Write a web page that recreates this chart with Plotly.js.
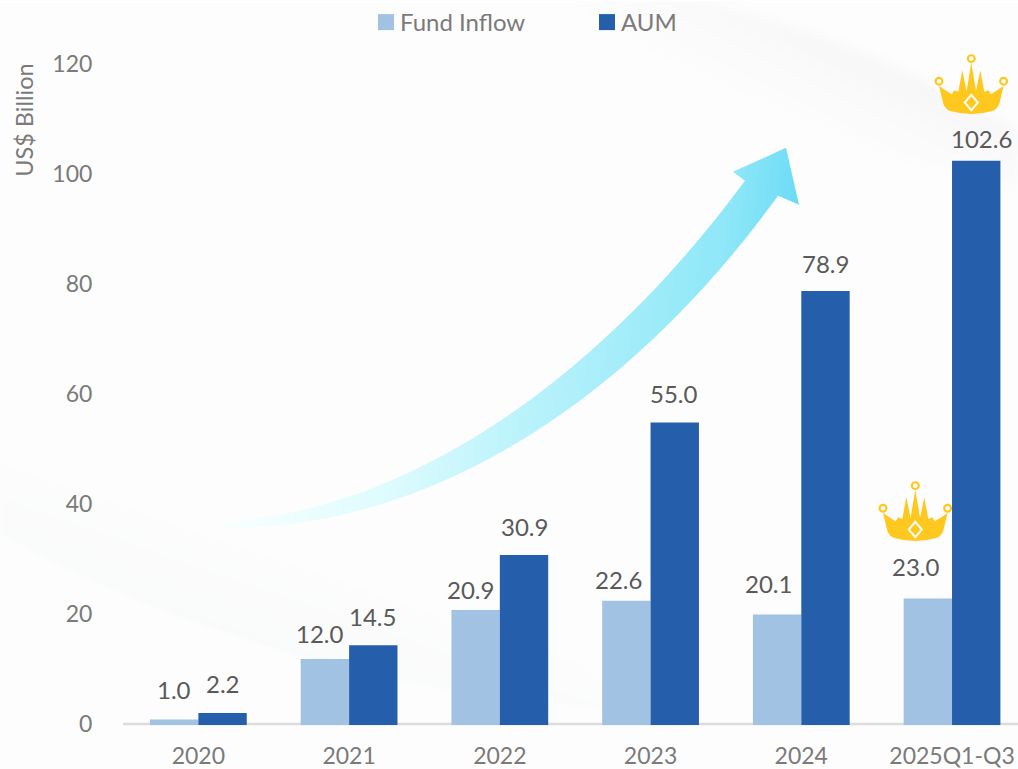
<!DOCTYPE html>
<html>
<head>
<meta charset="utf-8">
<script src="https://cdn.plot.ly/plotly-3.0.1.min.js"></script>
<style>html,body{margin:0;padding:0;background:#fff;overflow:hidden}</style>
</head>
<body>
<div id="chart" style="width:1018px;height:769px"></div>
<script>
const categories = ['2020','2021','2022','2023','2024','2025Q1-Q3'];
const fundInflow = [1.0,12.0,20.9,22.6,20.1,23.0];
const aum = [2.2,14.5,30.9,55.0,78.9,102.6];

const W=1018,H=769,L=123,B=44;
const FONT='Lato, "Open Sans", sans-serif';
const fundDx=[0,-5,-5,-8,-9,-12], fundDy=[30,26,21,21,31,32];
const aumDx=[0,-1,0,-1,0,5], aumDy=[29,29,29,29,28,22];
const BAR=24.2;

function crown(cx,cy){
  return `<g transform="translate(${cx},${cy})"><path fill="#ffc81e" d="M-32.3,0 L-19.7,8.3 L-17,4.3 L-13,6 L-9,-15.7 L-4.7,5 L0,-23.3 L4.7,5 L9,-15.7 L13,6 L17,4.3 L19.7,8.3 L32.3,0 L28,18 Q26,24 20,25.5 Q0,31 -20,25.5 Q-26,24 -28,18 Z"/>`+
  `<g fill="none" stroke="#ffc81e" stroke-width="2.2"><circle cx="0" cy="-27.3" r="3.4"/><circle cx="-32.3" cy="-4.7" r="3.4"/><circle cx="32.3" cy="-4.7" r="3.4"/></g>`+
  `<path d="M0,9 L6.5,16.7 L0,24.4 L-6.5,16.7 Z" fill="none" stroke="#fff" stroke-width="2"/></g>`;
}
const decor=`<svg xmlns="http://www.w3.org/2000/svg" width="${W}" height="${H}" viewBox="0 0 ${W} ${H}">
<defs>
<linearGradient id="a" gradientUnits="userSpaceOnUse" x1="230" y1="500" x2="810" y2="560">
<stop offset="0" stop-color="#f8ffff"/><stop offset="0.25" stop-color="#e0fcfe"/><stop offset="0.5" stop-color="#b8f2fb"/><stop offset="0.8" stop-color="#8ee7f8"/><stop offset="0.95" stop-color="#62d8f5"/>
</linearGradient>
<linearGradient id="c" gradientUnits="userSpaceOnUse" x1="200" y1="622" x2="232" y2="530">
<stop offset="0" stop-color="#f9fafa"/><stop offset="1" stop-color="#fdfdfd"/>
</linearGradient>
<linearGradient id="d" gradientUnits="userSpaceOnUse" x1="880" y1="62" x2="840" y2="143">
<stop offset="0" stop-color="#f7f7f7"/><stop offset="1" stop-color="#fdfdfd"/>
</linearGradient>
<filter id="b" x="-10%" y="-10%" width="120%" height="120%"><feGaussianBlur stdDeviation="6"/></filter>
<filter id="e" x="-5%" y="-5%" width="110%" height="110%"><feGaussianBlur stdDeviation="1.5"/></filter>
</defs>
<rect width="${W}" height="${H}" fill="#fdfdfd"/>
<path d="M1018,130 C900,60 800,25 700,0 L560,0 C640,80 800,140 1018,190 Z" fill="url(#d)" filter="url(#b)"/>
<path d="M0,533 C90,585 250,655 450,690 L620,712 C560,560 200,480 0,400 Z" fill="url(#c)" filter="url(#e)"/>
<path d="M219,522 C400,512 590,390 745,180 L733,171 L786,147 L799,204 L778,195 C630,400 430,530 225,527 Z" fill="url(#a)"/>
${crown(971.3,85)}${crown(915.3,512.6)}
</svg>`;

const makeLabels=(vals,sign,dx,dy)=>vals.map((v,i)=>({
  x:i,y:v,xref:'x',yref:'y',text:v.toFixed(1),showarrow:false,
  xshift:sign*BAR+dx[i],yshift:dy[i],xanchor:'center',yanchor:'middle',
  font:{family:FONT,size:24,color:'#595959'}
}));

const traces=[
 {type:'bar',name:'Fund Inflow',x:categories,y:fundInflow,marker:{color:'#a2c2e3'}},
 {type:'bar',name:'AUM',x:categories,y:aum,marker:{color:'#255fab'}}
];
const plotW=W-L, plotH=H-B;
const layout={
 width:W,height:H,
 margin:{l:L,r:0,t:0,b:B,pad:0},
 paper_bgcolor:'#ffffff',plot_bgcolor:'rgba(0,0,0,0)',
 barmode:'group',bargap:0.358,bargroupgap:0,
 font:{family:FONT,color:'#7a7a7a'},
 showlegend:true,
 legend:{orientation:'h',y:1+1/plotH,yanchor:'top',x:(360-L)/plotW,xanchor:'left',bgcolor:'rgba(0,0,0,0)',font:{family:FONT,size:24,color:'#7a7a7a'},entrywidth:176,entrywidthmode:'pixels',itemwidth:30},
 xaxis:{type:'category',categoryorder:'array',categoryarray:categories,range:[-0.5,5.4377],showgrid:false,zeroline:false,showline:false,
   ticks:'outside',ticklen:10,tickcolor:'rgba(0,0,0,0)',tickfont:{family:FONT,size:23,color:'#7a7a7a'},fixedrange:true},
 yaxis:{range:[0,725/5.508],tickmode:'array',tickvals:[0,20,40,60,80,100,120],ticktext:['0','20','40','60','80','100','120'],showgrid:false,zeroline:false,showline:false,
   ticks:'outside',ticklen:25,tickcolor:'rgba(0,0,0,0)',tickfont:{family:FONT,size:23,color:'#7a7a7a'},ticklabelshift:-1,fixedrange:true},
 shapes:[{type:'line',xref:'paper',yref:'paper',x0:0,x1:1,y0:1/plotH,y1:1/plotH,line:{color:'#dcdcdc',width:2.5},layer:'below'}],
 images:[{source:'data:image/svg+xml;charset=utf-8,'+encodeURIComponent(decor),xref:'paper',yref:'paper',
   x:-L/plotW,y:1,sizex:W/plotW,sizey:H/plotH,xanchor:'left',yanchor:'top',sizing:'stretch',layer:'below'}],
 annotations:[
  ...makeLabels(fundInflow,-1,fundDx,fundDy),
  ...makeLabels(aum,1,aumDx,aumDy),
  {text:'US$ Billion',xref:'paper',yref:'paper',x:(24-L)/plotW,y:1-120/plotH,xanchor:'center',yanchor:'middle',textangle:-90,showarrow:false,font:{family:FONT,size:23.5,color:'#7a7a7a'}}
 ]
};
Plotly.newPlot('chart',traces,layout,{displayModeBar:false,staticPlot:true}).then(()=>{
  document.querySelectorAll('.legend .legendpoints path').forEach(p=>{
    p.setAttribute('d','M8,8H-8V-8H8Z');
    const t=p.getAttribute('transform')||'';
    const m=t.match(/translate\(([-\d.]+)[ ,]*([-\d.]*)\)/);
    const x=m?+m[1]:0,y=m&&m[2]?+m[2]:0;
    p.setAttribute('transform','translate('+(x+6)+','+y+')');
  });
});
</script>
</body>
</html>
